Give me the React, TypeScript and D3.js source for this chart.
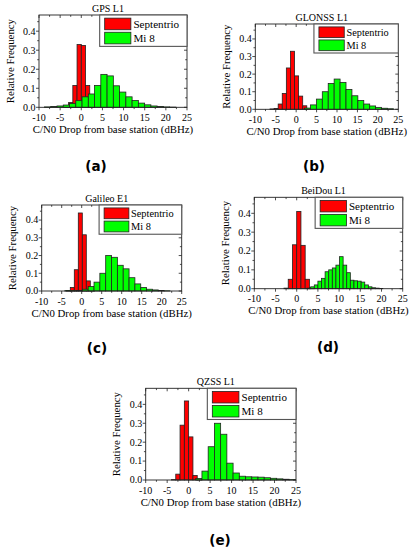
import React from 'react';
import * as d3 from 'd3';

// panel titles and sub-figure tags
const panelTitles = ['GPS L1', 'GLONSS L1', 'Galileo E1', 'BeiDou L1', 'QZSS L1'];
const panelTags = ['(a)', '(b)', '(c)', '(d)', '(e)'];
const seriesNames = ['Septentrio', 'Mi 8'];

const xTicks = [-10, -5, 0, 5, 10, 15, 20, 25];
const xMinorTicks = [-7.5, -2.5, 2.5, 7.5, 12.5, 17.5, 22.5];
const yTicks = [0, 0.1, 0.2, 0.3, 0.4];
const yMinorTicks = [0.05, 0.15, 0.25, 0.35, 0.45];

// histogram bins (dBHz): left edge of first bin and bin width
const septentrioBinStart = [-4, -6.4, -3.85, -3, -4];
const septentrioBinWidth = [1, 1, 1, 1, 1];
const mi8BinStart = [-8.7, 2.05, -4.22, 2.45, 1.65];
const mi8BinWidth = [1.48, 1.45, 1.46, 0.85, 1.45];

// relative frequency per bin
const gpsSeptentrio = [0.006, 0.025, 0.115, 0.33, 0.325, 0.115, 0.02];
const gpsMi8 = [0.002, 0.004, 0.007, 0.012, 0.02, 0.035, 0.055, 0.07, 0.115, 0.173, 0.165, 0.113, 0.08, 0.055, 0.036, 0.022, 0.013, 0.007, 0.004, 0.002, 0.001];
const glonassSeptentrio = [0.002, 0.005, 0.03, 0.09, 0.235, 0.33, 0.19, 0.075, 0.02];
const glonassMi8 = [0.007, 0.025, 0.058, 0.1, 0.147, 0.172, 0.153, 0.113, 0.077, 0.05, 0.03, 0.019, 0.011, 0.006, 0.003];
const galileoSeptentrio = [0.003, 0.02, 0.12, 0.44, 0.317, 0.057, 0.008];
const galileoMi8 = [0.002, 0.002, 0.003, 0.01, 0.025, 0.05, 0.1, 0.2, 0.19, 0.145, 0.125, 0.075, 0.04, 0.02, 0.01, 0.006, 0.003, 0.001];
const beidouSeptentrio = [0.003, 0.05, 0.233, 0.41, 0.23, 0.05, 0.005];
const beidouMi8 = [0.003, 0.01, 0.02, 0.04, 0.055, 0.09, 0.1, 0.11, 0.125, 0.17, 0.125, 0.085, 0.045, 0.042, 0.04, 0.035, 0.02, 0.01, 0.005, 0.003, 0.001];
const qzssSeptentrio = [0.002, 0.031, 0.29, 0.418, 0.228, 0.024, 0.004];
const qzssMi8 = [0.008, 0.047, 0.176, 0.3, 0.242, 0.089, 0.037, 0.02, 0.017, 0.016, 0.015, 0.012, 0.009, 0.006, 0.004, 0.002];

const septentrioValues = [gpsSeptentrio, glonassSeptentrio, galileoSeptentrio, beidouSeptentrio, qzssSeptentrio];
const mi8Values = [gpsMi8, glonassMi8, galileoMi8, beidouMi8, qzssMi8];

// plot frames in page pixels
const frames = [
  { l: 39, r: 187, t: 15, b: 107.3, tagX: 96, tagY: 170.5 },
  { l: 255.3, r: 398.3, t: 24, b: 109.3, tagX: 314, tagY: 170.5 },
  { l: 41.7, r: 181.7, t: 205, b: 291, tagX: 97, tagY: 352.5 },
  { l: 254.3, r: 402.7, t: 197.3, b: 288.7, tagX: 328, tagY: 351.5 },
  { l: 145.7, r: 296, t: 388.3, b: 480, tagX: 220, tagY: 545 },
];

const FONT = '"Liberation Serif", "DejaVu Serif", serif';
const TAG_FONT = '"DejaVu Sans", "Open Sans", sans-serif';
const INK = '#222';

function Panel({ idx }: { idx: number }) {
  const f = frames[idx];
  const x = d3.scaleLinear().domain([-10, 25]).range([f.l, f.r]);
  const y = d3.scaleLinear().domain([0, 0.485]).range([f.b, f.t]);

  const bins = (vals: number[], start: number, w: number) =>
    vals.map((v, i) => ({ x0: start + i * w, x1: start + (i + 1) * w, v }));
  const red = bins(septentrioValues[idx], septentrioBinStart[idx], septentrioBinWidth[idx]);
  const green = bins(mi8Values[idx], mi8BinStart[idx], mi8BinWidth[idx]);

  const lw = 0.59 * (f.r - f.l);
  const lh = 0.34 * (f.b - f.t);
  const lx = f.r - lw;
  const ly = f.t;
  const legendFont = 0.355 * lh;

  const bar = (d: { x0: number; x1: number; v: number }, fill: string, k: string) => (
    <rect
      key={k}
      x={x(d.x0)}
      y={y(d.v)}
      width={x(d.x1) - x(d.x0)}
      height={y(0) - y(d.v)}
      fill={fill}
      stroke={INK}
      strokeWidth={0.8}
    />
  );

  return (
    <g fontFamily={FONT} fill="#000">
      <text x={(f.l + f.r) / 2 - 5} y={f.t - 3.5} fontSize={10} textAnchor="middle">
        {panelTitles[idx]}
      </text>

      {red.map((d, i) => bar(d, '#ff0000', 'r' + i))}
      {green.map((d, i) => bar(d, '#00ff00', 'g' + i))}

      {/* frame */}
      <rect x={f.l} y={f.t} width={f.r - f.l} height={f.b - f.t} fill="none" stroke={INK} strokeWidth={0.9} />

      {/* x ticks: out at bottom, in at top */}
      {xTicks.map((t) => (
        <g key={'xt' + t}>
          <line x1={x(t)} x2={x(t)} y1={f.b} y2={f.b + 3} stroke={INK} strokeWidth={0.8} />
          <line x1={x(t)} x2={x(t)} y1={f.t} y2={f.t + 3} stroke={INK} strokeWidth={0.8} />
          <text x={x(t)} y={f.b + 13.5} fontSize={10} textAnchor="middle">
            {t}
          </text>
        </g>
      ))}
      {xMinorTicks.map((t) => (
        <g key={'xm' + t}>
          <line x1={x(t)} x2={x(t)} y1={f.b} y2={f.b + 1.8} stroke={INK} strokeWidth={0.8} />
          <line x1={x(t)} x2={x(t)} y1={f.t} y2={f.t + 1.8} stroke={INK} strokeWidth={0.8} />
        </g>
      ))}

      {/* y ticks: out at left, in at right */}
      {yTicks.map((t) => (
        <g key={'yt' + t}>
          <line x1={f.l - 3} x2={f.l} y1={y(t)} y2={y(t)} stroke={INK} strokeWidth={0.8} />
          <line x1={f.r - 3} x2={f.r} y1={y(t)} y2={y(t)} stroke={INK} strokeWidth={0.8} />
          <text x={f.l - 3.5} y={y(t) + 3.4} fontSize={10} textAnchor="end">
            {d3.format('.1f')(t)}
          </text>
        </g>
      ))}
      {yMinorTicks.map((t) => (
        <g key={'ym' + t}>
          <line x1={f.l - 1.8} x2={f.l} y1={y(t)} y2={y(t)} stroke={INK} strokeWidth={0.8} />
          <line x1={f.r - 1.8} x2={f.r} y1={y(t)} y2={y(t)} stroke={INK} strokeWidth={0.8} />
        </g>
      ))}

      <text x={(f.l + f.r) / 2} y={f.b + 25.7} fontSize={10.8} textAnchor="middle">
        C/N0 Drop from base station (dBHz)
      </text>
      <text
        transform={`translate(${f.l - 25.5},${(f.t + f.b) / 2}) rotate(-90)`}
        fontSize={10.8}
        textAnchor="middle"
      >
        Relative Frequency
      </text>

      {/* legend */}
      <rect x={lx} y={ly} width={lw} height={lh} fill="#fff" stroke="#555" strokeWidth={1.1} />
      {[0, 1].map((k) => {
        const sy = ly + lh * (k === 0 ? 0.1 : 0.55);
        const sh = lh * 0.37;
        return (
          <g key={'lg' + k}>
            <rect
              x={lx + 5}
              y={sy}
              width={0.3 * lw}
              height={sh}
              fill={k === 0 ? '#ff0000' : '#00ff00'}
              stroke={INK}
              strokeWidth={0.8}
            />
            <text x={lx + 0.386 * lw} y={sy + sh / 2 + legendFont * 0.35} fontSize={legendFont}>
              {seriesNames[k]}
            </text>
          </g>
        );
      })}

      <text
        x={f.tagX}
        y={f.tagY}
        fontSize={13.5}
        fontWeight="bold"
        fontFamily={TAG_FONT}
        textAnchor="middle"
      >
        {panelTags[idx]}
      </text>
    </g>
  );
}

export default function App() {
  return (
    <svg
      width={413}
      height={550}
      viewBox="0 0 413 550"
      style={{ position: 'absolute', left: 0, top: 0, background: '#fff' }}
    >
      {panelTitles.map((_, i) => (
        <Panel key={i} idx={i} />
      ))}
    </svg>
  );
}
